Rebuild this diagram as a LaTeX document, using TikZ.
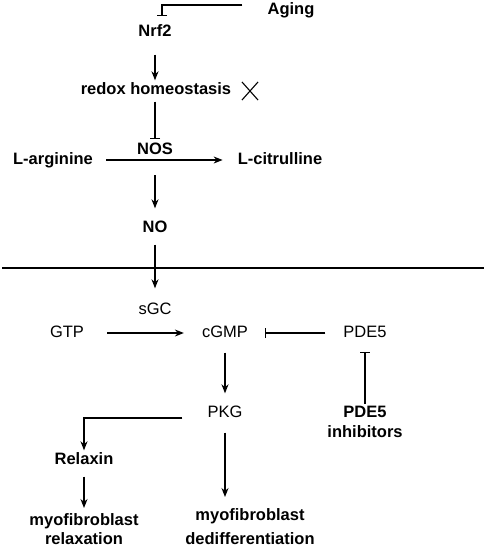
\documentclass[tikz,border=0pt]{standalone}
\usepackage{fontspec}
\setmainfont{Liberation Sans}
\usetikzlibrary{arrows.meta,shapes.misc}

\tikzset{
  lbl/.style={inner sep=2pt, text height=11.5pt, text depth=3.5pt, font=\fontsize{16.5}{19.5}\selectfont},
  blbl/.style={lbl, font=\fontsize{16.5}{19.5}\selectfont\bfseries},
  mlbl/.style={inner sep=2pt, anchor=north, align=center, font=\fontsize{16.5}{19.5}\selectfont\bfseries},
  arr/.style={-{Stealth[length=9pt,width=7pt]}, line width=1.2pt},
  inh/.style={-{Bar[width=10pt]}, line width=1.2pt},
}

\begin{document}
\begin{tikzpicture}[x=1pt, y=-1pt]
  \useasboundingbox (0,0) rectangle (484,549);
  % upper part, outside the cell
  \node[blbl] (aging) at (291,10) {Aging};
  \node[blbl] (nrf2) at (155,32) {Nrf2};
  \node[blbl] (redox) at (156,90) {redox homeostasis};
  \node[draw, cross out, minimum width=15pt, minimum height=17pt, inner sep=0pt, line width=1.1pt] (block) at (250,91) {};
  \node[blbl] (nos) at (155,150) {NOS};
  \node[blbl] (arg) at (53,160) {L-arginine};
  \node[blbl] (citr) at (280,160) {L-citrulline};
  \node[blbl] (no) at (155,228) {NO};
  % membrane
  \draw[line width=1.2pt] (2,268) -- (484,268);
  % lower part, inside the cell
  \node[lbl] (sgc) at (155,310) {sGC};
  \node[lbl] (gtp) at (67,333) {GTP};
  \node[lbl] (cgmp) at (225,333) {cGMP};
  \node[lbl] (pde) at (365,333) {PDE5};
  \node[lbl] (pkg) at (225,413) {PKG};
  \node[mlbl] (pdeinh) at (365,404) {PDE5\\inhibitors};
  \node[blbl] (relaxin) at (84,460) {Relaxin};
  \node[mlbl] (relax) at (84,511) {myofibroblast\\relaxation};
  \node[mlbl] (dediff) at (250,506) {myofibroblast\\[5pt]dedifferentiation};

  \draw[inh, shorten <=23pt, shorten >=6pt] ([yshift=5pt]aging.west) -| ([xshift=7pt]nrf2.north);
  \draw[arr, shorten <=13pt] (nrf2.south) -- (nrf2.south |- redox.north);
  \draw[inh, shorten <=2pt, shorten >=1.5pt] (redox.south -| nos) -- (nos.north);
  \draw[arr, shorten <=11pt, shorten >=13pt] (arg.east) -- (citr.west);
  \draw[arr, shorten <=15.5pt, shorten >=10pt] (nos.south) -- (no.north);
  \draw[arr, shorten <=7pt, shorten >=12pt] (no.south) -- (sgc.north);
  \draw[arr, shorten <=21pt, shorten >=16pt] (gtp.east) -- (cgmp.west);
  \draw[inh, shorten <=16pt, shorten >=15pt] (pde.west) -- (cgmp.east);
  \draw[arr, shorten <=10pt, shorten >=10pt] (cgmp.south) -- (pkg.north);
  \draw[inh, shorten >=9.5pt] (pdeinh.north) -- (pde.south);
  \draw[arr, shorten <=23pt] ([yshift=-5pt]pkg.west) -| (relaxin.north);
  \draw[arr, shorten <=7pt, shorten >=3pt] (relaxin.south) -- (relax.north);
  \draw[arr, shorten <=10pt, shorten >=9pt] (pkg.south) -- (pkg.south |- dediff.north);
\end{tikzpicture}
\end{document}
